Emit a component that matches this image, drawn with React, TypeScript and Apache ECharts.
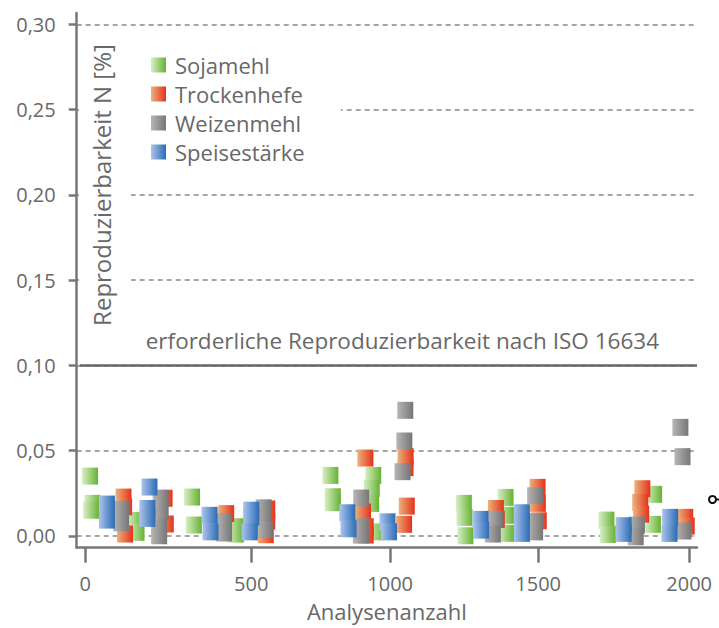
import React, { useEffect, useRef } from "react";
import * as echarts from "echarts";

// ---- data ----
const seriesNames = ["Sojamehl", "Trockenhefe", "Weizenmehl", "Speisestärke"];

const sojamehl: [number, number][] = [
  [16, 0.035], [24, 0.019], [20, 0.015], [165, 0.009], [170, 0.002], [354, 0.0227], [360, 0.0063],
  [499, 0.0053], [499, 0.001], [812, 0.0354], [820, 0.0229], [820, 0.0194], [954, 0.0354],
  [949, 0.0278], [947, 0.019], [964, 0.0023], [1254, 0.019], [1256, 0.0108], [1259, 0.0],
  [1392, 0.0225], [1394, 0.012], [1394, 0.0014], [1726, 0.0092], [1731, 0.0008], [1884, 0.0243],
  [1880, 0.0067],
];
const trockenhefe: [number, number][] = [
  [127, 0.0227], [129, 0.017], [132, 0.001], [263, 0.022], [267, 0.0069], [467, 0.013],
  [603, 0.0157], [598, 0.0006], [603, 0.0086], [928, 0.0456], [920, 0.0139], [929, 0.0053],
  [929, 0.0004], [1061, 0.0464], [1061, 0.04], [1065, 0.0174], [1056, 0.0067], [1360, 0.016],
  [1363, 0.0096], [1498, 0.0284], [1499, 0.019], [1502, 0.0088], [1845, 0.0276], [1838, 0.0196],
  [1841, 0.0127], [1987, 0.0108], [1992, 0.0057],
];
const weizenmehl: [number, number][] = [
  [119, 0.0155], [119, 0.0076], [250, 0.022], [250, 0.015], [245, 0.0053], [245, 0.0],
  [460, 0.0082], [460, 0.0016], [591, 0.0164], [591, 0.011], [595, 0.0037], [1060, 0.0736],
  [1057, 0.0556], [1051, 0.0376], [914, 0.0221], [913, 0.0053], [913, 0.0004], [1358, 0.0096],
  [1350, 0.001], [1490, 0.0235], [1490, 0.0082], [1490, 0.0023], [1971, 0.0636], [1978, 0.0464],
  [1827, 0.0063], [1823, -0.0006], [1981, 0.0028],
];
const speisestaerke: [number, number][] = [
  [72, 0.0186], [72, 0.0092], [213, 0.0286], [206, 0.016], [206, 0.0102], [412, 0.012],
  [415, 0.0023], [550, 0.015], [550, 0.011], [545, 0.0023], [868, 0.0135], [872, 0.0041],
  [1001, 0.0082], [1006, 0.0023], [1309, 0.0096], [1311, 0.0033], [1446, 0.0135], [1446, 0.0082],
  [1446, 0.0014], [1783, 0.0059], [1783, 0.0014], [1937, 0.0108], [1935, 0.0014],
];

// tick labels and where the reference draws them on its (uneven) x axis
const xTickLabels = ["0", "500", "1000", "1500", "2000"];
const xTickValues = [0, 550, 1010, 1500, 2000];
const yTickValues = [0, 0.05, 0.1, 0.15, 0.2, 0.25, 0.3];
const requiredLimit = 0.1;
const limitLabel = "erforderliche Reproduzierbarkeit nach ISO 16634";
const xAxisTitle = "Analysenanzahl";
const yAxisTitle = "Reproduzierbarkeit N [%]";

const FONT = "Open Sans";
const TXT = "#686868";

const grad = (a: string, b: string) =>
  new echarts.graphic.LinearGradient(0, 0, 1, 0, [
    { offset: 0, color: a },
    { offset: 1, color: b },
  ]);

export default function App() {
  const ref = useRef<HTMLDivElement>(null);
  useEffect(() => {
    if (!ref.current) return;
    const chart = echarts.init(ref.current, null, { renderer: "svg" });
    const colors = [
      grad("#d8efc6", "#66b232"),
      grad("#eab27c", "#e5321a"),
      grad("#b8b5b5", "#777575"),
      grad("#adc4ec", "#2a6cb5"),
    ];
    const datasets = [sojamehl, trockenhefe, weizenmehl, speisestaerke];
    const series: any[] = datasets.map((d, i) => ({
      name: seriesNames[i],
      type: "scatter",
      symbol: "rect",
      symbolSize: [16, 17],
      itemStyle: { color: colors[i], opacity: 1 },
      data: d,
      z: 3,
    }));
    series[0].markLine = {
      silent: true,
      symbol: "none",
      lineStyle: { color: "#666", width: 2.5, type: "solid" },
      label: {
        show: true,
        position: "middle",
        distance: 13,
        formatter: limitLabel,
        color: TXT,
        fontFamily: FONT,
        fontSize: 22.5,
        offset: [14, 0],
      },
      data: [[{ coord: [-18, requiredLimit] }, { coord: [2026, requiredLimit] }]],
    };

    chart.setOption({
      animation: false,
      backgroundColor: "#fff",
      textStyle: { fontFamily: FONT },
      grid: {
        left: 76.7,
        right: 22,
        top: 13,
        bottom: 80.3,
        containLabel: false,
        outerBoundsMode: "none",
      },
      legend: {
        data: seriesNames,
        orient: "vertical",
        left: 131,
        top: 34,
        padding: [20, 36, 20, 20],
        backgroundColor: "#fff",
        itemWidth: 15,
        itemHeight: 15,
        itemGap: 7,
        icon: "rect",
        textStyle: { color: TXT, fontFamily: FONT, fontSize: 22, lineHeight: 20, padding: [0, 0, 0, 4] },
        z: 6,
      },
      xAxis: {
        type: "value",
        min: -28,
        max: 2026,
        name: xAxisTitle,
        nameLocation: "middle",
        nameGap: 52,
        nameTextStyle: { color: TXT, fontFamily: FONT, fontSize: 22, lineHeight: 22 },
        axisLine: { show: true, onZero: false, lineStyle: { color: "#777", width: 2.5 } },
        axisTick: { show: true, length: 15, customValues: xTickValues, lineStyle: { color: "#777", width: 2.5 } },
        axisLabel: {
          customValues: xTickValues,
          margin: 26,
          color: TXT,
          fontFamily: FONT,
          fontSize: 20,
          formatter: (v: number) => {
            const i = xTickValues.indexOf(v);
            return i >= 0 ? xTickLabels[i] : "";
          },
        },
        splitLine: { show: false },
      },
      yAxis: {
        type: "value",
        min: -0.007,
        max: 0.3067,
        axisLine: { show: true, onZero: false, lineStyle: { color: "#777", width: 2.5 } },
        axisTick: { show: true, length: 8, customValues: yTickValues, lineStyle: { color: "#777", width: 2.5 } },
        axisLabel: {
          customValues: yTickValues,
          margin: 21,
          color: TXT,
          fontFamily: FONT,
          fontSize: 20,
          formatter: (v: number) => v.toFixed(2).replace(".", ","),
        },
        splitLine: { show: true, lineStyle: { color: "#888", width: 1.5, type: [5, 4] } },
      },
      graphic: [
        {
          type: "rect",
          z: 100,
          shape: { x: 79, y: 30, width: 52, height: 310 },
          style: { fill: "#fff" },
        },
        {
          type: "text",
          z: 101,
          x: 101,
          y: 185,
          rotation: Math.PI / 2,
          style: {
            text: yAxisTitle,
            fontFamily: FONT,
            fontSize: 24,
            fill: TXT,
            align: "center",
            verticalAlign: "middle",
          },
        },
        {
          type: "circle",
          z: 101,
          shape: { cx: 712.5, cy: 499.5, r: 3.5 },
          style: { fill: "#fff", stroke: "#111", lineWidth: 2 },
        },
        {
          type: "line",
          z: 101,
          shape: { x1: 716, y1: 499.5, x2: 719, y2: 499.5 },
          style: { stroke: "#111", lineWidth: 2 },
        },
      ],
      series,
    });
    return () => chart.dispose();
  }, []);
  return <div ref={ref} style={{ position: "fixed", left: 0, top: 0, width: 719, height: 628 }} />;
}
